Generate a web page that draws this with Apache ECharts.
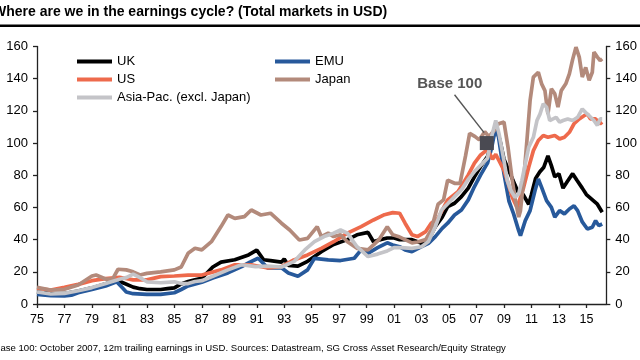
<!DOCTYPE html>
<html>
<head>
<meta charset="utf-8">
<script src="https://cdn.jsdelivr.net/npm/echarts@6/dist/echarts.min.js"></script>
<style>
html,body{margin:0;padding:0;background:#fff;}
#chart{width:640px;height:360px;}
</style>
</head>
<body>
<div id="chart"></div>
<script>
// ---- Data (year, index value; base 100 = Oct 2007) ----
const YEAR_TICKS = [1975,1977,1979,1981,1983,1985,1987,1989,1991,1993,1995,1997,1999,2001,2003,2005,2007,2009,2011,2013,2015];

const UK = [[1975,7.5],[1976,6.5],[1977,6.5],[1978,8],[1979,10],[1980,12.5],[1980.8,15.5],[1981.3,13],[1982,10.5],[1982.5,9.5],[1983,9],[1984,9],[1984.5,9.5],[1985,10],[1985.5,12.5],[1986,14],[1986.5,15],[1987,16],[1987.8,23],[1988.4,26],[1989.4,27.5],[1990.4,30.5],[1991,33.5],[1991.5,27.5],[1992,27],[1992.8,26],[1993,28],[1993.3,24],[1994,23.5],[1994.7,26.5],[1995.7,32.5],[1996.6,37],[1997.6,40],[1998.3,43],[1999.1,44.5],[1999.5,38.7],[2000,40],[2000.5,41],[2001,41],[2001.4,40],[2002.3,40],[2003,37.7],[2003.5,39.8],[2004,48],[2004.5,54],[2004.9,60.5],[2005.4,62.6],[2005.9,66.7],[2006.4,72],[2006.85,79],[2007.3,85.4],[2007.8,91.6],[2008.1,100],[2008.4,110],[2008.7,102],[2009,90],[2009.4,82],[2009.7,76],[2010,70],[2010.4,68],[2010.8,62],[2011,68],[2011.3,78],[2011.6,82],[2011.9,85],[2012.2,92],[2012.45,86],[2012.7,79],[2013,81],[2013.3,72],[2013.6,76],[2014,81],[2014.3,77],[2014.7,72],[2015,68],[2015.4,65],[2015.8,62],[2016.15,57]];

const EMU = [[1975,6],[1976,5.2],[1977,5],[1977.5,5.5],[1978,7],[1979,9],[1980,11.2],[1980.8,13.8],[1981.2,10.2],[1981.5,7.5],[1982,6.4],[1983,6],[1984,6],[1985,7],[1985.5,9],[1986,11.2],[1987,13.5],[1987.8,16.2],[1988.9,19.3],[1989.9,23.2],[1990.5,26],[1991.1,28.4],[1991.5,25],[1991.8,22.4],[1992.8,22.5],[1993.3,19.3],[1994,17.2],[1994.7,21.2],[1995.2,28.4],[1996.2,27.4],[1997.1,27],[1998.1,28.4],[1998.6,33.6],[1999.1,31.5],[1999.8,35],[2000.5,38],[2000.9,36.7],[2001.4,35.6],[2001.8,33.6],[2002.3,32.5],[2003,35.6],[2003.5,37.7],[2004,41.9],[2004.5,47],[2004.9,50.2],[2005.4,55.3],[2005.9,58.4],[2006.4,64.7],[2006.85,73],[2007.3,80.2],[2007.8,87.5],[2008.1,97],[2008.4,110],[2008.6,104],[2009,81],[2009.36,64],[2009.7,56],[2010.07,45.6],[2010.2,42.5],[2010.55,51.8],[2010.9,58],[2011.26,70.5],[2011.5,77.7],[2011.74,72.5],[2012.1,64.2],[2012.45,60],[2012.7,54],[2013.05,58],[2013.4,56],[2013.76,59],[2014.1,61],[2014.36,58],[2014.7,51],[2015.07,46.6],[2015.43,47.7],[2015.67,51.8],[2015.9,48.7],[2016.15,49.7]];

const US = [[1975,9.8],[1976,8.7],[1977,10.4],[1978,12.2],[1979,14.5],[1980,15.8],[1981,16.6],[1982,15],[1983,15],[1984,17],[1985,17.4],[1986,18],[1987,18],[1988.4,21.2],[1989.4,24.4],[1990.6,24.4],[1991.8,22.4],[1992.8,23.2],[1993.7,27.4],[1994.7,30.5],[1995.7,34.6],[1996.6,38.7],[1997.6,44],[1998.6,48.1],[1999.5,52.2],[2000.3,55.5],[2000.9,56.8],[2001.4,56.4],[2001.8,50.2],[2002.3,43],[2002.7,41.9],[2003.3,45],[2003.7,50.2],[2004.2,53.3],[2004.9,64.7],[2005.65,69.8],[2006.4,80.2],[2006.85,87.5],[2007.3,92.6],[2007.8,96],[2008.17,90],[2008.4,93],[2008.64,89],[2009,83],[2009.24,76.7],[2009.6,66.3],[2009.95,60],[2010.2,66.3],[2010.43,72.5],[2010.8,85],[2011.14,95.3],[2011.5,101.6],[2011.86,104.7],[2012.2,103.6],[2012.7,104.7],[2013.05,102.6],[2013.4,103.6],[2013.76,106.7],[2014.1,112],[2014.48,115],[2014.83,117],[2015.07,118],[2015.3,115],[2015.67,115],[2016,112],[2016.15,113]];

const JAPAN = [[1975,10.4],[1976,8.7],[1977,9.1],[1978,11.8],[1979,17.4],[1979.3,18],[1980,15.5],[1980.5,15.5],[1980.9,21.6],[1981.5,21.2],[1982,20],[1982.5,18],[1983,19],[1984,20],[1985,21.2],[1985.5,23],[1986,31.5],[1986.5,34.6],[1987,33.6],[1987.7,38.7],[1988.4,48.1],[1988.9,55.3],[1989.4,53.2],[1990.1,54.3],[1990.6,58.4],[1991.3,55.3],[1992,56.4],[1992.8,50.2],[1993.4,46],[1994.1,39.8],[1994.7,40.8],[1995.4,48.1],[1995.7,41.9],[1996.2,44],[1996.6,41.9],[1997.1,43],[1997.6,38.7],[1998.3,34.6],[1999.1,33.6],[1999.5,36.7],[1999.9,40],[2000.5,48],[2000.9,43],[2001.3,42],[2001.8,40],[2002.3,38],[2002.7,38.5],[2003.3,40],[2003.7,46],[2004.2,62],[2004.6,64.7],[2004.9,77],[2005.4,75],[2005.8,75],[2006.2,92],[2006.5,106],[2006.9,104],[2007.2,102],[2007.6,107],[2007.9,104],[2008.3,108],[2008.6,112],[2009,113],[2009.3,97],[2009.6,77],[2009.8,66],[2010.07,54],[2010.2,58],[2010.43,76.7],[2010.67,101.6],[2010.9,126.4],[2011.14,141],[2011.5,144],[2011.74,136.8],[2011.98,132.6],[2012.2,118],[2012.45,133.7],[2012.7,130.6],[2012.93,122.3],[2013.17,132.6],[2013.5,136.8],[2013.76,143],[2014,152],[2014.24,159.6],[2014.48,153.4],[2014.7,141],[2014.95,147],[2015.2,139],[2015.43,144],[2015.55,156.5],[2015.8,153.4],[2016,151.3],[2016.15,152.3]];

const ASIAPAC = [[1975,7.5],[1976,6.2],[1977,6.6],[1978,8.2],[1979,10.2],[1980,12.7],[1981,15.4],[1981.5,16.4],[1982,18.6],[1982.5,16.4],[1983,13.8],[1984,13.2],[1985,13.8],[1985.5,12.7],[1986,12.7],[1986.5,14],[1987,14.5],[1987.8,17.2],[1988.9,21.2],[1989.9,24.4],[1990.9,23.2],[1991.8,23.5],[1992.8,23],[1993.7,26.3],[1994.5,33.6],[1995.2,38.7],[1995.9,41.9],[1996.6,44],[1997.1,46],[1997.6,44],[1998.3,35.6],[1999.1,29.5],[1999.8,31],[2000.5,33],[2001,35],[2001.5,35],[2002.3,34.6],[2003,35.6],[2003.5,38.8],[2004,48],[2004.46,58.4],[2004.94,62.6],[2005.4,66.7],[2005.9,70.9],[2006.37,77.1],[2006.85,82.3],[2007.32,86.4],[2007.8,90.6],[2008.1,104],[2008.4,114],[2008.64,105.7],[2009,89],[2009.24,76.7],[2009.5,70.5],[2009.8,66.3],[2010.07,68.4],[2010.3,76.7],[2010.55,87],[2010.8,97.4],[2011.14,103.6],[2011.4,114],[2011.62,118],[2011.86,124.4],[2012.1,122.3],[2012.33,114],[2012.57,115],[2012.8,116],[2013.05,113],[2013.3,114],[2013.64,115],[2014,114],[2014.36,116],[2014.7,121.2],[2014.95,119],[2015.2,117],[2015.55,114],[2015.8,111],[2016,115],[2016.15,115]];

// Annotation (data space)
const BASE_POINT = [2007.75, 100];
const ARROW_FROM = [2005.4, 130];
const ARROW_TO = [2007.55, 106.5];
const BASE_LABEL_AT = [2005.05, 136.5];

const FONT = "'Liberation Sans', Arial, Helvetica, sans-serif";
const chart = echarts.init(document.getElementById('chart'), null, {renderer:'canvas'});

function mkSeries(name, data, color) {
  return {
    name, type:'line', data, showSymbol:false, symbol:'none',
    lineStyle:{width:3.7, color}, itemStyle:{color},
    emphasis:{disabled:true}, silent:true, animation:false
  };
}
const series = [
  mkSeries('UK', UK, '#000000'),
  mkSeries('EMU', EMU, '#27599b'),
  mkSeries('US', US, '#ee6a4c'),
  mkSeries('Japan', JAPAN, '#b38a7b'),
  mkSeries('Asia-Pac. (excl. Japan)', ASIAPAC, '#c4c4c8')
];
series[4].markLine = {
  silent:true, animation:false,
  symbol:['none','arrow'], symbolSize:[0,9],
  lineStyle:{color:'#555555', width:1.4, type:'solid'},
  label:{show:false},
  data:[[{coord:ARROW_FROM},{coord:ARROW_TO}]]
};
series[4].markPoint = {
  silent:true, animation:false,
  data:[
    {coord:BASE_POINT, symbol:'rect', symbolSize:14, itemStyle:{color:'#4a4a52'}, label:{show:false}},
    {coord:BASE_LABEL_AT, symbol:'circle', symbolSize:0, itemStyle:{color:'transparent'},
     label:{show:true, position:'inside', formatter:'Base 100', color:'#555555', fontSize:15, fontWeight:'bold', fontFamily:FONT}}
  ]
};

const yAxisCommon = {
  type:'value', min:0, max:160, interval:20,
  axisLine:{show:true, lineStyle:{color:'#222', width:1.3}},
  axisTick:{show:true, length:4, lineStyle:{color:'#222', width:1.3}},
  splitLine:{show:false},
  axisLabel:{color:'#000', fontSize:13, fontFamily:FONT, margin:9}
};

const legendCommon = {
  orient:'vertical', top:50, icon:'rect', itemWidth:35, itemHeight:4, itemGap:5,
  textStyle:{color:'#000', fontSize:13, fontFamily:FONT}, selectedMode:false
};

chart.setOption({
  animation:false,
  textStyle:{fontFamily:FONT},
  grid:{left:37, right:31, top:46.5, bottom:56},
  xAxis:{
    type:'value', min:1975, max:2016.45,
    axisLine:{show:true, lineStyle:{color:'#222', width:1.3}},
    axisTick:{show:true, length:4, customValues:YEAR_TICKS, lineStyle:{color:'#222', width:1.3}},
    axisLabel:{customValues:YEAR_TICKS, color:'#000', fontSize:12.5, fontFamily:FONT, margin:9,
      formatter:v => String(Math.round(v) % 100).padStart(2,'0')},
    splitLine:{show:false}
  },
  yAxis:[
    Object.assign({position:'left'}, yAxisCommon),
    Object.assign({position:'right'}, yAxisCommon)
  ],
  legend:[
    Object.assign({left:72, data:['UK','US','Asia-Pac. (excl. Japan)']}, legendCommon),
    Object.assign({left:270, data:['EMU','Japan']}, legendCommon)
  ],
  graphic:[
    {type:'text', left:-7, top:5, style:{text:'Where are we in the earnings cycle? (Total markets in USD)', fill:'#000', font:"bold 14px " + FONT}},
    {type:'rect', shape:{x:0, y:24.5, width:640, height:2.6}, style:{fill:'#000'}},
    {type:'text', left:-6, top:343, style:{text:'Base 100: October 2007, 12m trailing earnings in USD. Sources: Datastream, SG Cross Asset Research/Equity Strategy', fill:'#000', font:"9.6px " + FONT}}
  ],
  series
});
</script>
</body>
</html>
